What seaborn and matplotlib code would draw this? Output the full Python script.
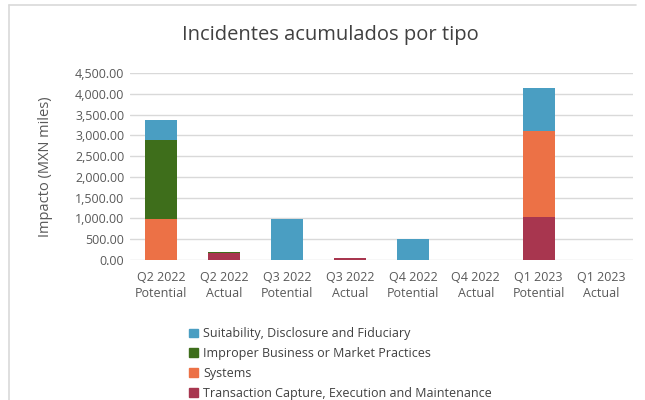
import matplotlib
matplotlib.use("Agg")
import matplotlib.pyplot as plt
import matplotlib.patches as mpatches
import matplotlib.lines as mlines
import seaborn as sns
import numpy as np
import pandas as pd
from matplotlib.ticker import FuncFormatter, MultipleLocator

# datos (MXN miles)
categorias = ["Q2 2022\nPotential", "Q2 2022\nActual", "Q3 2022\nPotential", "Q3 2022\nActual",
              "Q4 2022\nPotential", "Q4 2022\nActual", "Q1 2023\nPotential", "Q1 2023\nActual"]
transaction = [0, 160, 0, 45, 0, 0, 1035, 0]
systems = [985, 0, 0, 0, 0, 0, 2065, 0]
improper = [1900, 40, 0, 0, 0, 0, 0, 0]
suitability = [480, 0, 985, 0, 500, 0, 1040, 0]

series = ["Suitability, Disclosure and Fiduciary",
          "Improper Business or Market Practices",
          "Systems",
          "Transaction Capture, Execution and Maintenance"]
colores = ["#4A9EC2", "#3E6E1B", "#EC7146", "#A8364F"]

sns.set_theme(style="white")
plt.rcParams['font.family'] = ['Open Sans', 'DejaVu Sans']

fig = plt.figure(figsize=(6.45, 4.0), dpi=100)
ax = fig.add_axes([130 / 645, 1 - 260 / 400, 503 / 645, 187 / 400])

# acumulados de abajo hacia arriba: transaction, systems, improper, suitability
capas = [transaction, systems, improper, suitability]
acum = np.cumsum(np.array(capas, dtype=float), axis=0)
df = pd.DataFrame({"categoria": categorias})
for i in range(3, -1, -1):
    df["valor"] = acum[i]
    sns.barplot(data=df, x="categoria", y="valor", order=categorias,
                color=colores[3 - i], saturation=1, width=0.51, ax=ax,
                linewidth=0, zorder=3)

ax.set_ylim(0, 4500)
ax.set_xlim(-0.5, 7.5)
ax.yaxis.set_major_locator(MultipleLocator(500))
ax.yaxis.set_major_formatter(FuncFormatter(lambda v, p: f"{v:,.2f}"))
ax.grid(axis="y", color="#D9D9D9", linewidth=1.0, zorder=0)
ax.set_axisbelow(True)
for s in ax.spines.values():
    s.set_visible(False)
ax.tick_params(axis="both", length=0, labelsize=9, colors="#595959", pad=4)
ax.tick_params(axis="x", pad=8)
for t in ax.get_xticklabels():
    t.set_linespacing(1.3)
ax.set_xlabel("")
ax.set_ylabel("Impacto (MXN miles)", fontsize=10.5, color="#595959", labelpad=16)

fig.text(0.512, 0.912, "Incidentes acumulados por tipo", ha="center", va="center",
         fontsize=14.5, color="#404040")

handles = [mpatches.Patch(color=c, label=l) for c, l in zip(colores, series)]
fig.legend(handles=handles, loc="upper left", bbox_to_anchor=(183 / 645, 1 - 321 / 400),
           frameon=False, fontsize=9, labelcolor="#404040", handlelength=0.7,
           handleheight=0.7, handletextpad=0.4, labelspacing=0.55, borderpad=0)

# marco del area de grafico (solo superior e izquierdo visibles)
borde = dict(transform=fig.transFigure, color="#D9D9D9", linewidth=1.2)
fig.lines.append(mlines.Line2D([9 / 645, 636 / 645], [1 - 5 / 400, 1 - 5 / 400], **borde))
fig.lines.append(mlines.Line2D([9 / 645, 9 / 645], [0, 1 - 5 / 400], **borde))

fig.savefig("out.png", dpi=100)
